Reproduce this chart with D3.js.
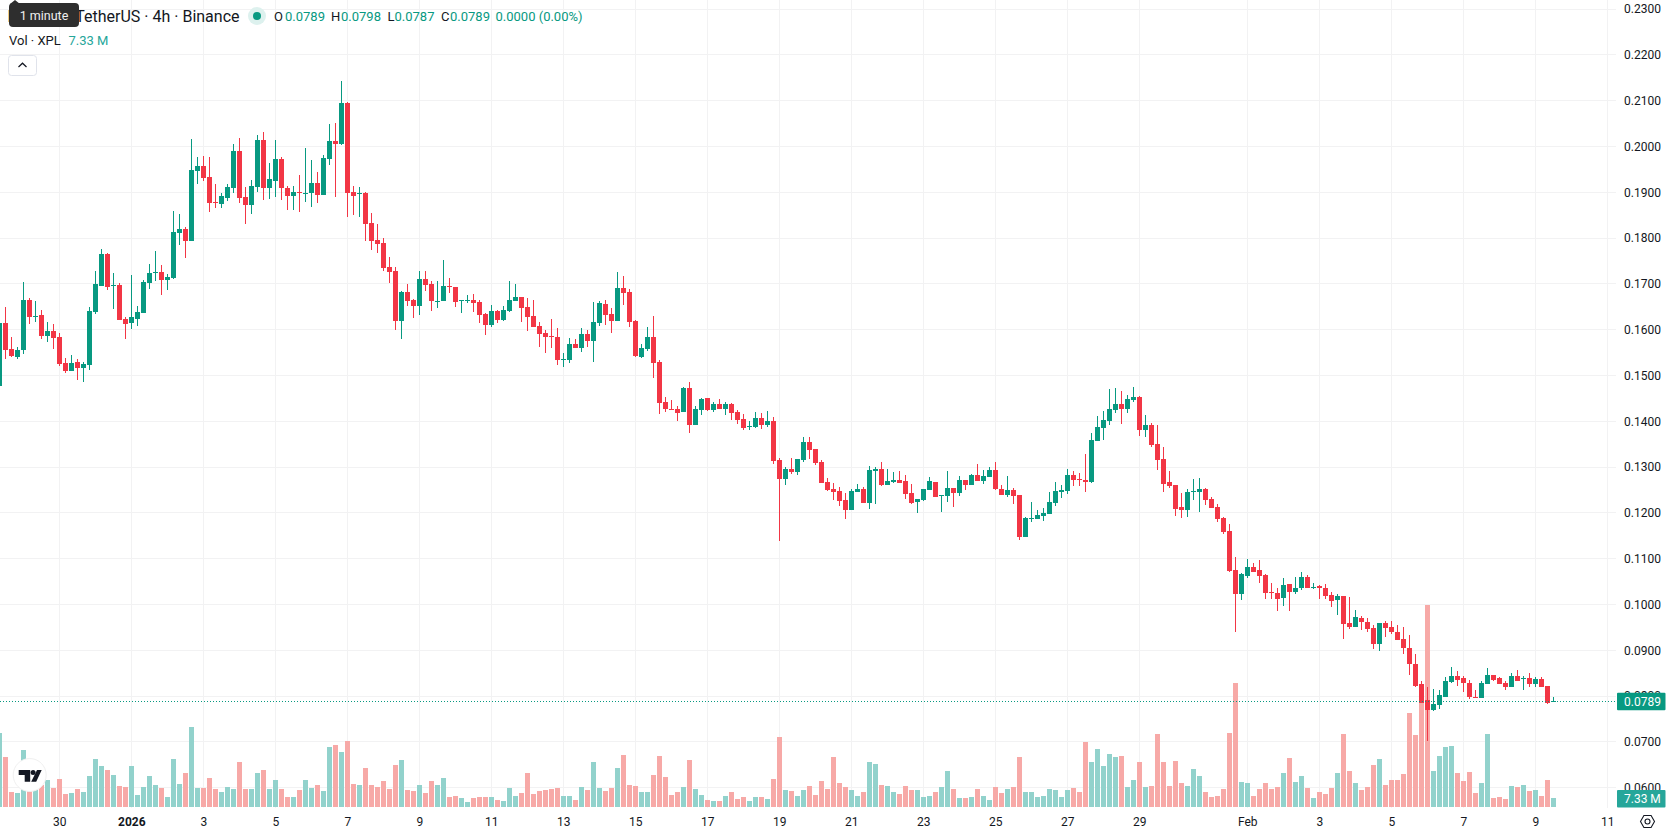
<!DOCTYPE html>
<html>
<head>
<meta charset="utf-8">
<title>XPL / TetherUS 4h</title>
<script src="https://cdnjs.cloudflare.com/ajax/libs/d3/7.9.0/d3.min.js"></script>
<style>
  html, body { margin: 0; padding: 0; background: #fff; overflow: hidden; }
  svg { display: block; font-family: Roboto, sans-serif; }
  text { fill: #131722; }
</style>
</head>
<body>
<svg id="chart" width="1678" height="835"></svg>
<script>
// Four-hour candles, oldest first.
const opens = [
.1477,.1615,.1557,.1541,.1556,.1664,.1628,.1632,.1586,.1597,
.1584,.1527,.1510,.1529,.1517,.1523,.1639,.1696,.1765,.1695,
.1697,.1623,.1615,.1624,.1637,.1702,.1724,.1726,.1709,.1713,
.1811,.1819,.1794,.1947,.1957,.1933,.1878,.1875,.1888,.1910,
.1990,.1889,.1872,.1912,.2014,.1910,.1925,.1972,.1909,.1892,
.1900,.1897,.1899,.1920,.1894,.1973,.2012,.2006,.2095,.1900,
.1896,.1898,.1833,.1796,.1789,.1737,.1728,.1619,.1682,.1664,
.1651,.1710,.1699,.1660,.1662,.1695,.1693,.1662,.1662,.1664,
.1660,.1634,.1610,.1640,.1621,.1640,.1662,.1671,.1649,.1630,
.1608,.1592,.1586,.1584,.1534,.1534,.1568,.1560,.1590,.1575,
.1614,.1656,.1634,.1619,.1691,.1682,.1619,.1540,.1558,.1584,
.1529,.1442,.1427,.1427,.1420,.1472,.1392,.1424,.1451,.1424,
.1437,.1427,.1437,.1420,.1405,.1387,.1387,.1407,.1392,.1400,
.1315,.1274,.1296,.1289,.1315,.1354,.1339,.1311,.1267,.1252,
.1247,.1228,.1206,.1245,.1252,.1221,.1291,.1296,.1261,.1267,
.1271,.1269,.1243,.1223,.1228,.1250,.1267,.1237,.1237,.1254,
.1243,.1271,.1261,.1282,.1269,.1278,.1293,.1252,.1239,.1250,
.1239,.1147,.1186,.1186,.1193,.1197,.1221,.1245,.1247,.1282,
.1273,.1271,.1267,.1357,.1385,.1400,.1424,.1437,.1426,.1446,
.1453,.1381,.1392,.1350,.1317,.1267,.1260,.1212,.1206,.1245,
.1245,.1252,.1230,.1212,.1188,.1160,.1075,.1023,.1062,.1081,
.1075,.1064,.1027,.1025,.1014,.1044,.1027,.1035,.1059,.1037,
.1040,.1037,.1020,.1009,.1018,.0959,.0950,.0970,.0961,.0948,
.0913,.0959,.0950,.0941,.0924,.0906,.0871,.0826,.0791,.0769,
.0780,.0797,.0830,.0843,.0839,.0828,.0799,.0795,.0826,.0845,
.0839,.0828,.0819,.0843,.0838,.0839,.0826,.0837,.0821,.0789];

const highs = [
.1620,.1649,.1584,.1562,.1704,.1669,.1662,.1643,.1616,.1612,
.1592,.1538,.1544,.1536,.1529,.1649,.1728,.1776,.1767,.1723,
.1701,.1628,.1719,.1651,.1708,.1743,.1771,.1741,.1721,.1859,
.1852,.1824,.2016,.1977,.1979,.1977,.1918,.1898,.1918,.2005,
.2018,.1911,.1926,.2025,.2031,.1963,.2014,.1977,.1913,.1913,
.1937,.1996,.1970,.1944,.1981,.2049,.2051,.2143,.2097,.1913,
.1911,.1900,.1854,.1830,.1800,.1758,.1737,.1684,.1699,.1667,
.1728,.1728,.1706,.1706,.1752,.1713,.1693,.1664,.1675,.1678,
.1664,.1636,.1654,.1643,.1651,.1706,.1699,.1671,.1669,.1664,
.1616,.1599,.1623,.1603,.1549,.1582,.1579,.1603,.1599,.1660,
.1662,.1664,.1647,.1726,.1717,.1688,.1621,.1568,.1606,.1630,
.1533,.1453,.1446,.1433,.1475,.1485,.1433,.1451,.1451,.1442,
.1448,.1442,.1440,.1424,.1416,.1400,.1420,.1418,.1422,.1409,
.1320,.1300,.1320,.1317,.1365,.1365,.1339,.1315,.1276,.1265,
.1256,.1243,.1252,.1263,.1256,.1302,.1300,.1311,.1296,.1289,
.1291,.1282,.1263,.1230,.1252,.1278,.1267,.1239,.1291,.1254,
.1280,.1271,.1285,.1306,.1293,.1300,.1311,.1261,.1280,.1254,
.1239,.1191,.1223,.1206,.1210,.1245,.1267,.1261,.1295,.1291,
.1287,.1328,.1374,.1411,.1422,.1470,.1472,.1466,.1457,.1474,
.1455,.1413,.1396,.1392,.1343,.1291,.1260,.1243,.1252,.1274,
.1276,.1254,.1234,.1219,.1191,.1175,.1103,.1068,.1099,.1090,
.1097,.1066,.1047,.1036,.1057,.1044,.1061,.1072,.1064,.1048,
.1042,.1044,.1027,.1022,.1018,.1016,.0987,.0974,.0970,.0955,
.0959,.0965,.0963,.0955,.0950,.0933,.0893,.0832,.0819,.0815,
.0813,.0841,.0863,.0854,.0843,.0836,.0813,.0834,.0861,.0847,
.0841,.0832,.0850,.0856,.0843,.0850,.0841,.0841,.0823,.0798];

const lows = [
.1475,.1536,.1540,.1536,.1547,.1613,.1617,.1580,.1573,.1558,
.1521,.1506,.1510,.1490,.1486,.1512,.1635,.1696,.1687,.1645,
.1621,.1580,.1602,.1608,.1637,.1689,.1707,.1676,.1687,.1711,
.1784,.1757,.1794,.1918,.1925,.1857,.1866,.1866,.1881,.1899,
.1877,.1831,.1853,.1901,.1883,.1886,.1890,.1883,.1862,.1862,
.1857,.1879,.1868,.1877,.1894,.1960,.1890,.2004,.1846,.1850,
.1846,.1793,.1774,.1767,.1728,.1702,.1599,.1579,.1651,.1625,
.1632,.1684,.1640,.1647,.1662,.1680,.1649,.1636,.1658,.1638,
.1614,.1588,.1606,.1614,.1619,.1638,.1662,.1616,.1597,.1606,
.1562,.1549,.1560,.1523,.1518,.1527,.1560,.1551,.1562,.1529,
.1608,.1610,.1592,.1619,.1654,.1606,.1540,.1538,.1553,.1494,
.1416,.1421,.1424,.1400,.1420,.1374,.1391,.1413,.1422,.1420,
.1426,.1413,.1402,.1394,.1381,.1381,.1385,.1383,.1387,.1306,
.1138,.1261,.1285,.1282,.1311,.1317,.1304,.1265,.1247,.1228,
.1215,.1186,.1206,.1245,.1221,.1208,.1219,.1258,.1261,.1265,
.1265,.1230,.1219,.1199,.1226,.1250,.1234,.1202,.1223,.1213,
.1237,.1250,.1261,.1269,.1263,.1278,.1250,.1239,.1234,.1219,
.1140,.1147,.1180,.1186,.1182,.1197,.1215,.1232,.1241,.1258,
.1258,.1245,.1265,.1357,.1359,.1392,.1418,.1394,.1418,.1442,
.1367,.1365,.1343,.1293,.1245,.1254,.1193,.1188,.1191,.1228,
.1201,.1217,.1210,.1180,.1153,.1071,.0940,.1009,.1057,.1071,
.1047,.1012,.1012,.0985,.0996,.0985,.1024,.1031,.1035,.1033,
.1011,.1011,.0994,.0976,.0924,.0946,.0950,.0944,.0939,.0902,
.0898,.0930,.0935,.0922,.0891,.0845,.0819,.0784,.0701,.0767,
.0771,.0797,.0828,.0823,.0810,.0793,.0797,.0795,.0826,.0834,
.0826,.0813,.0819,.0832,.0813,.0819,.0819,.0819,.0782,.0787];

const closes = [
.1615,.1556,.1542,.1555,.1664,.1628,.1630,.1586,.1597,.1582,
.1525,.1510,.1527,.1517,.1525,.1640,.1699,.1765,.1694,.1697,
.1621,.1613,.1627,.1638,.1704,.1723,.1726,.1709,.1715,.1813,
.1819,.1794,.1948,.1957,.1931,.1877,.1876,.1891,.1911,.1990,
.1888,.1872,.1913,.2014,.1910,.1929,.1972,.1910,.1892,.1900,
.1898,.1899,.1920,.1894,.1974,.2012,.2006,.2095,.1899,.1892,
.1898,.1830,.1793,.1787,.1734,.1726,.1619,.1682,.1662,.1651,
.1710,.1697,.1662,.1662,.1695,.1693,.1660,.1664,.1664,.1658,
.1632,.1610,.1640,.1621,.1643,.1664,.1671,.1647,.1627,.1606,
.1590,.1584,.1584,.1534,.1536,.1568,.1560,.1590,.1575,.1616,
.1658,.1632,.1619,.1691,.1680,.1616,.1542,.1560,.1584,.1527,
.1440,.1427,.1425,.1418,.1472,.1392,.1427,.1448,.1424,.1437,
.1427,.1437,.1418,.1402,.1385,.1389,.1407,.1392,.1400,.1313,
.1274,.1296,.1289,.1317,.1354,.1337,.1309,.1265,.1250,.1245,
.1226,.1206,.1247,.1252,.1221,.1293,.1296,.1261,.1269,.1271,
.1265,.1241,.1221,.1230,.1252,.1269,.1234,.1239,.1254,.1243,
.1271,.1261,.1282,.1269,.1280,.1293,.1252,.1239,.1250,.1237,
.1147,.1188,.1188,.1195,.1199,.1223,.1247,.1250,.1282,.1271,
.1271,.1267,.1359,.1387,.1402,.1426,.1437,.1426,.1448,.1453,
.1381,.1392,.1348,.1315,.1263,.1258,.1208,.1206,.1245,.1247,
.1252,.1228,.1210,.1186,.1158,.1073,.1023,.1066,.1081,.1071,
.1062,.1025,.1025,.1012,.1042,.1027,.1035,.1059,.1037,.1039,
.1035,.1018,.1007,.1018,.0957,.0950,.0972,.0961,.0946,.0913,
.0959,.0948,.0939,.0922,.0904,.0869,.0823,.0786,.0769,.0782,
.0802,.0832,.0843,.0836,.0828,.0797,.0797,.0828,.0845,.0836,
.0826,.0819,.0843,.0834,.0840,.0826,.0837,.0819,.0786,.0789];

// Traded volume per candle, in millions of XPL.
const volumes = [
60.3,40.7,12.2,11.4,46.4,19.3,15.2,17.9,22.0,15.5,
22.8,10.6,11.4,14.7,12.2,25.2,39.1,33.4,30.1,26.1,
17.1,16.3,33.4,9.8,16.3,25.2,17.9,15.5,8.1,39.1,
18.7,27.7,65.2,15.5,15.5,23.6,14.7,12.2,16.3,14.7,
36.7,14.7,14.7,27.7,30.1,14.7,22.0,14.7,8.1,8.1,
13.8,22.0,15.5,17.9,13.0,48.9,50.5,44.8,53.8,18.7,
17.9,31.8,17.9,16.3,21.2,14.7,34.2,38.3,13.8,13.0,
17.9,11.4,21.2,17.9,23.6,8.1,9.0,7.3,4.1,7.3,
8.1,8.1,8.1,5.7,4.9,15.5,9.0,11.4,27.7,10.6,
13.0,13.8,14.7,15.5,9.0,9.0,5.7,16.3,13.8,36.7,
15.5,13.0,15.5,31.8,42.4,17.9,17.1,12.2,12.2,26.1,
41.5,24.4,9.8,12.2,16.3,38.3,14.7,9.8,5.7,4.9,
4.9,9.0,12.2,6.5,8.1,4.9,8.1,8.1,6.5,22.8,
57.0,13.8,13.0,9.0,13.8,17.1,9.8,21.2,14.7,40.7,
19.5,16.3,13.8,9.0,12.2,36.7,35.0,17.9,17.1,12.2,
10.6,17.1,13.8,13.8,8.1,9.0,12.2,16.3,29.3,14.7,
7.3,7.3,8.1,14.7,9.0,5.7,16.3,11.4,14.7,16.3,
40.7,12.2,12.2,8.1,9.0,14.7,13.8,8.1,13.8,15.5,
12.2,52.9,36.7,47.2,33.4,43.2,40.7,41.5,16.3,22.0,
36.7,16.3,17.1,59.5,36.7,17.1,37.5,19.5,17.1,31.0,
25.2,12.2,8.1,9.0,14.7,60.3,101.0,20.4,19.5,9.0,
14.7,19.5,14.7,16.3,27.7,39.9,20.4,25.2,15.5,7.3,
12.2,10.6,15.5,27.7,59.5,29.3,19.5,13.8,16.3,34.2,
39.1,17.9,22.0,22.0,26.9,76.6,58.6,85.5,164.5,29.3,
41.5,48.9,49.7,27.7,21.2,28.5,11.4,19.5,59.5,7.3,
8.1,6.5,17.1,16.3,17.9,13.0,13.8,9.0,22.0,7.33];

// Axis ticks: candle index of each date label, and the price grid.
const dateTickIndex = [10,22,34,46,58,70,82,94,106,118,130,142,154,166,178,190,208,220,232,244,256,268];
const dateTickLabels = ["30","2026","3","5","7","9","11","13","15","17","19","21","23","25","27","29","Feb","3","5","7","9","11"];
const priceTicks = [0.23,0.22,0.21,0.20,0.19,0.18,0.17,0.16,0.15,0.14,0.13,0.12,0.11,0.10,0.09,0.08,0.07,0.06];

const lastPrice = 0.0789;
const lastVolume = 7.33;

const UP = "#089981", DOWN = "#F23645";
const VOL_UP = "#92D2CC", VOL_DOWN = "#F7A9A7", VOL_TAG = "#26A69A";

const paneRight = 1616, paneBottom = 808;

const x = d3.scaleLinear().domain([0, 259]).range([-0.7, 1553.3]);
const y = d3.scaleLinear().domain([0.06, 0.23]).range([787.7, 9.1]);
const yVol = d3.scaleLinear().domain([0, 164.5]).range([807, 605]);

const candles = opens.map((o, i) => ({
  i, o, h: highs[i], l: lows[i], c: closes[i], v: volumes[i], up: closes[i] >= o
}));

const svg = d3.select("#chart");

// Grid lines come from the same axes as the labels, with the ticks stretched across the pane.
const grid = svg.append("g");
grid.append("g")
  .attr("transform", `translate(0,${paneBottom})`)
  .call(d3.axisBottom(x).tickValues(dateTickIndex).tickSize(-paneBottom).tickFormat(""))
  .call(g => g.select(".domain").remove())
  .call(g => g.selectAll("line").attr("transform", d => `translate(${Math.floor(x(d)) + 0.5 - x(d) - 0.5},0)`));
grid.append("g")
  .call(d3.axisLeft(y).tickValues(priceTicks).tickSize(0).tickFormat(""))
  .call(g => g.select(".domain").remove())
  .call(g => g.selectAll(".tick").attr("transform", d => `translate(0,${Math.floor(y(d)) + 0.5})`))
  .call(g => g.selectAll("line").attr("x1", 0).attr("x2", paneRight));
grid.selectAll("line").attr("stroke", "#F2F2F3").attr("stroke-width", 1);

// Volume columns sit under the candles, on their own scale.
svg.append("g").attr("shape-rendering", "crispEdges")
  .selectAll("rect").data(candles).join("rect")
  .attr("x", d => Math.floor(x(d.i)) - 2)
  .attr("width", 5)
  .attr("y", d => Math.round(yVol(d.v)))
  .attr("height", d => yVol(0) - Math.round(yVol(d.v)))
  .attr("fill", d => d.up ? VOL_UP : VOL_DOWN);

// Wicks, then bodies.
const candleLayer = svg.append("g").attr("shape-rendering", "crispEdges");
candleLayer.selectAll("rect.wick").data(candles).join("rect")
  .attr("class", "wick")
  .attr("x", d => Math.floor(x(d.i)))
  .attr("width", 1)
  .attr("y", d => Math.round(y(d.h)))
  .attr("height", d => Math.max(1, Math.round(y(d.l)) - Math.round(y(d.h))))
  .attr("fill", d => d.up ? UP : DOWN);
candleLayer.selectAll("rect.body").data(candles).join("rect")
  .attr("class", "body")
  .attr("x", d => Math.floor(x(d.i)) - 2)
  .attr("width", 5)
  .attr("y", d => Math.round(y(Math.max(d.o, d.c))))
  .attr("height", d => Math.max(1, Math.round(y(Math.min(d.o, d.c))) - Math.round(y(Math.max(d.o, d.c)))))
  .attr("fill", d => d.up ? UP : DOWN);

// Dotted last-price line.
svg.append("line")
  .attr("x1", 0).attr("x2", paneRight)
  .attr("y1", Math.floor(y(lastPrice)) + 0.5).attr("y2", Math.floor(y(lastPrice)) + 0.5)
  .attr("stroke", UP).attr("stroke-width", 1).attr("stroke-dasharray", "1 2");

// Price axis.
const priceAxis = svg.append("g")
  .attr("transform", `translate(${paneRight},0)`)
  .call(d3.axisRight(y).tickValues(priceTicks).tickSize(0).tickPadding(8).tickFormat(d3.format(".4f")));
priceAxis.select(".domain").remove();
priceAxis.selectAll("text").attr("font-size", 12).attr("font-family", "Roboto, sans-serif").attr("fill", "#131722");

// Time axis.
const timeAxis = svg.append("g")
  .attr("transform", `translate(0,${paneBottom})`)
  .call(d3.axisBottom(x).tickValues(dateTickIndex).tickSize(0).tickPadding(9)
    .tickFormat((d, i) => dateTickLabels[i]));
timeAxis.select(".domain").remove();
timeAxis.selectAll("text")
  .attr("font-size", 12).attr("font-family", "Roboto, sans-serif").attr("fill", "#131722")
  .attr("font-weight", (d, i) => dateTickLabels[i] === "2026" ? 700 : 400);

// Value tags on the price axis.
function axisTag(cy, label, fill) {
  const g = svg.append("g");
  g.append("rect")
    .attr("x", paneRight + 1).attr("y", cy - 8.5)
    .attr("width", 48.5).attr("height", 17.5).attr("rx", 1).attr("fill", fill);
  g.append("text")
    .attr("x", paneRight + 8).attr("y", cy + 0.5)
    .attr("dy", "0.35em").attr("font-size", 12)
    .style("fill", "#fff").text(label);
}
axisTag(y(lastPrice), d3.format(".4f")(lastPrice), UP);
axisTag(yVol(lastVolume) + 0.4, `${lastVolume} M`, VOL_TAG);

// Settings hexagon in the bottom-right corner.
const gear = svg.append("g").attr("transform", "translate(1647.5,821.5)")
  .attr("fill", "none").attr("stroke", "#131722").attr("stroke-width", 1.1);
gear.append("path").attr("d", "M-7,0 L-3.6,-6 L3.6,-6 L7,0 L3.6,6 L-3.6,6 Z");
gear.append("circle").attr("r", 2.5);

// Legend block.
const legend = svg.append("g");
function legendText(px, py, str, size, fill, anchor) {
  legend.append("text")
    .attr("x", px).attr("y", py).attr("dy", "0.35em")
    .attr("font-size", size).attr("text-anchor", anchor || "start")
    .style("fill", fill || "#131722").text(str);
}
legendText(239.5, 16, "Plasma / TetherUS · 4h · Binance", 16, "#131722", "end");
legend.append("circle").attr("cx", 257).attr("cy", 16).attr("r", 9).attr("fill", "#DDF1EE");
legend.append("circle").attr("cx", 257).attr("cy", 16).attr("r", 4).attr("fill", UP);
[["O", 274, "0.0789", 285], ["H", 331, "0.0798", 341], ["L", 387.5, "0.0787", 394.5], ["C", 441, "0.0789", 450]]
  .forEach(([k, kx, val, vx]) => {
    legendText(kx, 16, k, 13);
    legendText(vx, 16, val, 13, UP);
  });
legendText(495.5, 16, "0.0000 (0.00%)", 13, UP);
legendText(9, 40.5, "Vol · XPL", 13);
legendText(68.5, 40.5, `${lastVolume} M`, 13, VOL_TAG);

// Collapse button under the legend.
legend.append("rect").attr("x", 8.5).attr("y", 55.5).attr("width", 28).attr("height", 20).attr("rx", 3)
  .attr("fill", "#fff").attr("stroke", "#E0E3EB");
legend.append("path").attr("d", "M18.5,67 L22.5,63.2 L26.5,67").attr("fill", "none").attr("stroke", "#131722").attr("stroke-width", 1.2);

// Hover hint that overlaps the start of the title.
legend.append("path").attr("d", "M10,4 L15,0 L20,4 Z").attr("fill", "#2E2E2E");
legend.append("rect").attr("x", 9).attr("y", 3).attr("width", 70).attr("height", 24).attr("rx", 4).attr("fill", "#2E2E2E");
legendText(44, 15.5, "1 minute", 12.5, "#F0F0F0", "middle");

// Watermark badge in the lower-left corner.
const badge = svg.append("g").attr("transform", "translate(29.7,775)");
badge.append("circle").attr("r", 16.5).attr("fill", "#fff").attr("stroke", "#F0F0F0").attr("stroke-width", 1);
badge.append("path").attr("fill", "#131722")
  .attr("d", "M-11,-5 H0.5 V6.7 H-5 V0 H-11 Z M7.3,-5 H12 L6.5,6.7 H1.5 Z");
badge.append("circle").attr("cx", 3.4).attr("cy", -2.5).attr("r", 2.5).attr("fill", "#131722");
</script>
</body>
</html>
